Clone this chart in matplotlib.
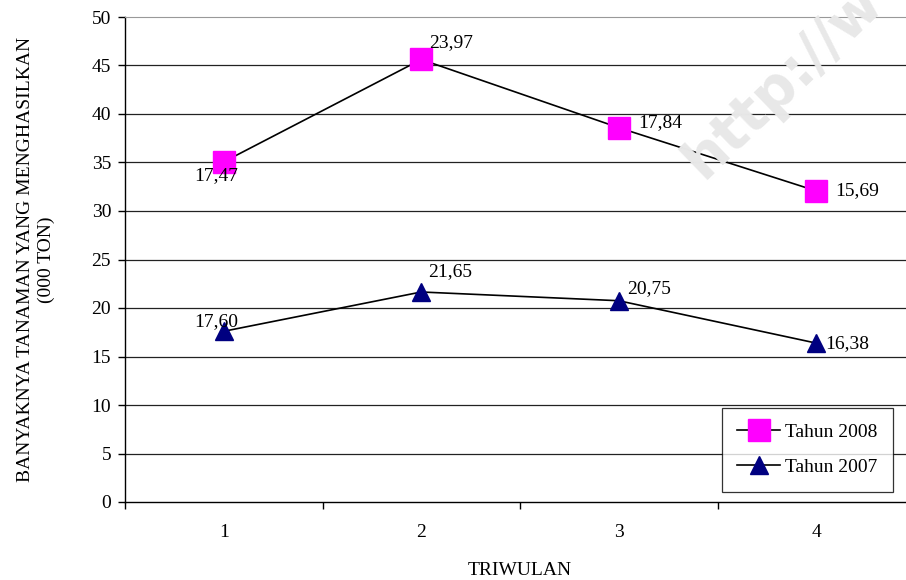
import numpy as np
import matplotlib
matplotlib.use("Agg")
import matplotlib.pyplot as plt

plt.rcParams['font.family'] = ['Liberation Serif', 'DejaVu Serif']

triwulan = [1, 2, 3, 4]
tahun_2007 = [17.60, 21.65, 20.75, 16.38]
tahun_2008 = [17.47, 23.97, 17.84, 15.69]
# the chart is a stacked line chart: 2008 sits on top of 2007
stacked_2008 = np.array(tahun_2007) + np.array(tahun_2008)

lbl_2007 = ["17,60", "21,65", "20,75", "16,38"]
lbl_2008 = ["17,47", "23,97", "17,84", "15,69"]

FS = 14

fig = plt.figure(figsize=(9.06, 5.8), dpi=100)
ax = fig.add_axes([125/906, 78/580, 790/906, 485/580])

# watermark
fig.text(0.864, 0.86, "http://w", rotation=44, rotation_mode='anchor',
         fontsize=41, fontweight='bold', family='DejaVu Sans', color='#e8e8e8',
         ha='center', va='center', zorder=0)

ax.set_facecolor('none')
ax.set_xlim(0.5, 4.5)
ax.set_ylim(0, 50)
ax.set_yticks(range(0, 51, 5))
for y in range(5, 50, 5):
    ax.axhline(y, color='#222222', lw=0.9, zorder=1)

ax.plot(triwulan, stacked_2008, color='black', lw=1.2, marker='s', ms=15.5,
        mfc='#ff00ff', mec='#ff00ff', label='Tahun 2008', zorder=3)
ax.plot(triwulan, tahun_2007, color='black', lw=1.2, marker='^', ms=12.5,
        mfc='#000080', mec='#000080', label='Tahun 2007', zorder=3)

off_2008 = [(-21, -10), (6, 12), (14, 4), (14, 0)]
off_2007 = [(-21, 7), (5, 15), (6, 9), (6.5, 0)]
for x, y, t, o in zip(triwulan, stacked_2008, lbl_2008, off_2008):
    ax.annotate(t, (x, y), xytext=o, textcoords='offset points', ha='left',
                va='center', fontsize=FS, zorder=4)
for x, y, t, o in zip(triwulan, tahun_2007, lbl_2007, off_2007):
    ax.annotate(t, (x, y), xytext=o, textcoords='offset points', ha='left',
                va='center', fontsize=FS, zorder=4)

ax.spines['right'].set_visible(False)
ax.spines['top'].set_color('#999999')
ax.spines['left'].set_linewidth(1.0)
ax.spines['bottom'].set_linewidth(1.0)

ax.set_xticks(triwulan)
ax.set_xticks([0.5, 1.5, 2.5, 3.5, 4.5], minor=True)
ax.tick_params(axis='x', which='major', length=0, pad=16, labelsize=FS)
ax.tick_params(axis='x', which='minor', length=5, width=1)
ax.tick_params(axis='y', length=5, width=1, labelsize=FS, pad=5)

ax.set_xlabel("TRIWULAN", fontsize=FS, labelpad=15)
ax.set_ylabel("BANYAKNYA TANAMAN YANG MENGHASILKAN\n(000 TON)", fontsize=FS,
              labelpad=26, linespacing=1.3)

leg = ax.legend(loc='lower right', bbox_to_anchor=(0.972, 0.021),
                fontsize=FS, frameon=True, fancybox=False, edgecolor='black',
                borderpad=0.8, labelspacing=0.9, handlelength=2.2,
                handletextpad=0.25, borderaxespad=0)
leg.get_frame().set_linewidth(0.9)

fig.savefig("out.png", dpi=100)
